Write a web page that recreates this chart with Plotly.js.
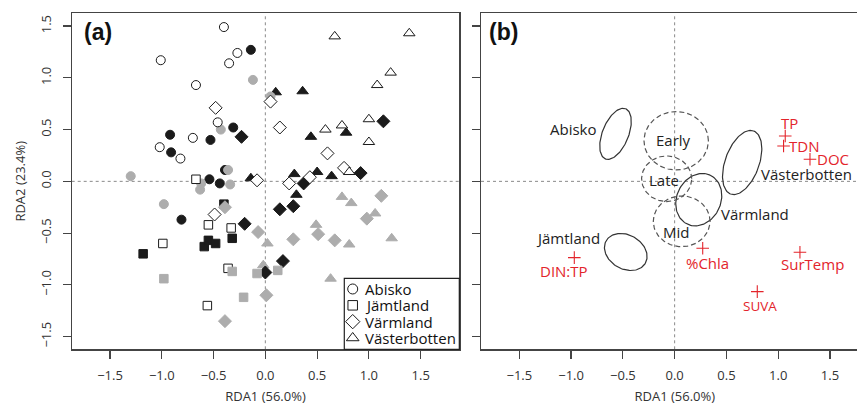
<!DOCTYPE html>
<html><head><meta charset="utf-8">
<script src="https://cdn.plot.ly/plotly-3.0.1.min.js"></script>
<style>html,body{margin:0;padding:0;overflow:hidden;background:#fff}#chart{width:870px;height:406px}</style>
</head><body><div id="chart"></div>
<script>
// ---------- Panel (a): sample scores ----------
const sites = ['Abisko', 'Jämtland', 'Värmland', 'Västerbotten'];
const siteSymbols = ['circle', 'square', 'diamond', 'triangle-up'];
const siteSizes = [9, 8.5, 10, 10];

const abiskoOpenX  = [-0.40, -1.01, -0.35, -0.27, -0.67, -0.46, -0.70, -1.02, -0.82];
const abiskoOpenY  = [1.49, 1.17, 1.14, 1.24, 0.93, 0.57, 0.42, 0.33, 0.22];
const abiskoBlackX = [-0.14, -0.92, -0.91, -0.53, -0.31, -0.39, -0.54, -0.44, -0.81];
const abiskoBlackY = [1.27, 0.45, 0.28, 0.40, 0.52, 0.11, 0.02, -0.02, -0.37];
const abiskoGrayX  = [-1.30, -0.43, -0.36, -0.62, -0.63, -0.34, -0.12, 0.05, -0.98];
const abiskoGrayY  = [0.05, 0.50, 0.11, -0.02, -0.08, -0.03, 0.98, 0.82, -0.22];

const jamtlandOpenX  = [-0.67, -0.55, -0.33, -0.99, -0.36, -0.56];
const jamtlandOpenY  = [0.02, -0.42, -0.45, -0.60, -0.84, -1.20];
const jamtlandBlackX = [-1.18, -0.59, -0.55, -0.48, -0.32, -0.40];
const jamtlandBlackY = [-0.70, -0.63, -0.57, -0.60, -0.55, -0.22];
const jamtlandGrayX  = [-0.98, -0.32, -0.08, 0.12, -0.21];
const jamtlandGrayY  = [-0.94, -0.87, -0.89, -0.86, -1.12];

const varmlandOpenX  = [-0.48, 0.05, 0.14, 0.60, 0.76, 0.43, 0.23, -0.08, -0.49];
const varmlandOpenY  = [0.71, 0.77, 0.52, 0.27, 0.13, 0.04, -0.02, 0.01, -0.32];
const varmlandBlackX = [-0.23, 1.14, 0.92, 0.37, 0.14, -0.20, 0.27, 0.17, 0.00];
const varmlandBlackY = [0.43, 0.58, 0.08, -0.02, -0.27, -0.41, -0.24, -0.77, -0.88];
const varmlandGrayX  = [-0.07, 0.27, 0.51, 0.67, 0.98, 1.12, 0.01, -0.39, -0.39];
const varmlandGrayY  = [-0.49, -0.56, -0.51, -0.57, -0.36, -0.14, -1.10, -1.35, -0.25];

const vasterbottenOpenX  = [0.67, 1.39, 1.21, 1.08, 1.00, 0.74, 0.58, 1.00, 0.81];
const vasterbottenOpenY  = [1.40, 1.43, 1.05, 0.93, 0.60, 0.54, 0.50, 0.38, 0.09];
const vasterbottenBlackX = [0.10, 0.36, 0.44, 0.78, 0.28, 0.50, 0.64, -0.14, 0.30];
const vasterbottenBlackY = [0.86, 0.87, 0.43, 0.47, 0.07, 0.09, 0.05, 0.03, -0.13];
const vasterbottenGrayX  = [0.74, 0.83, 1.06, 0.49, 0.81, 1.22, 0.63, 0.02, -0.02];
const vasterbottenGrayY  = [-0.15, -0.21, -0.31, -0.42, -0.61, -0.55, -0.94, -0.60, -0.81];

// ---------- Panel (b): group ellipses and environmental variables ----------
const ellipseNames = ['Abisko', 'Jämtland', 'Värmland', 'Västerbotten', 'Early', 'Late', 'Mid'];
const ellipseCX = [-0.571, -0.472, 0.233, 0.652, 0.015, -0.077, 0.068];
const ellipseCY = [0.459, -0.682, -0.177, 0.182, 0.392, 0.025, -0.386];
const ellipseA  = [0.261, 0.218, 0.261, 0.324, 0.311, 0.242, 0.274];
const ellipseB  = [0.126, 0.164, 0.213, 0.164, 0.282, 0.220, 0.245];
const ellipseAngle = [68, -30, 65, 70, 0, 0, 0];
const ellipseDashed = [false, false, false, false, true, true, true];

const groupLabels = ['Abisko', 'Early', 'Late', 'Mid', 'Västerbotten', 'Värmland', 'Jämtland'];
const groupLabelX = [-0.972, -0.013, -0.103, 0.013, 1.278, 0.773, -1.032];
const groupLabelY = [0.505, 0.399, 0.013, -0.486, 0.074, -0.318, -0.550];

const envNames = ['TP', 'TDN', 'DOC', '%Chla', 'SurTemp', 'SUVA', 'DIN:TP'];
const envX = [1.068, 1.052, 1.307, 0.271, 1.210, 0.798, -0.969];
const envY = [0.438, 0.341, 0.213, -0.646, -0.685, -1.065, -0.737];
const envLabelDX = [4.7, 20.5, 23, 5, 12.7, 2.7, -10];
const envLabelDY = [12.7, 0, 0, -14.4, -11.7, -14.3, -13.3];
const envLabelSize = [15, 15, 15, 15, 15, 13.5, 15];

const tickValues = [-1.5, -1, -0.5, 0, 0.5, 1, 1.5];
const tickLabels = ['\u22121.5', '\u22121.0', '\u22120.5', '0.0', '0.5', '1.0', '1.5'];
const axisRange = [-1.870, 1.873];
const axisRangeY = [-1.622, 1.623];

// ---------- build ----------
const FONT = 'Open Sans';
const BLACK = '#1b1b1b';
const GRAY = '#adadad';
const RED = '#e3242b';

const siteData = [
  {open: [abiskoOpenX, abiskoOpenY], black: [abiskoBlackX, abiskoBlackY], gray: [abiskoGrayX, abiskoGrayY]},
  {open: [jamtlandOpenX, jamtlandOpenY], black: [jamtlandBlackX, jamtlandBlackY], gray: [jamtlandGrayX, jamtlandGrayY]},
  {open: [varmlandOpenX, varmlandOpenY], black: [varmlandBlackX, varmlandBlackY], gray: [varmlandGrayX, varmlandGrayY]},
  {open: [vasterbottenOpenX, vasterbottenOpenY], black: [vasterbottenBlackX, vasterbottenBlackY], gray: [vasterbottenGrayX, vasterbottenGrayY]}
];

function pointTrace(si, kind) {
  const d = siteData[si][kind];
  const fill = kind === 'open' ? '#ffffff' : (kind === 'black' ? BLACK : GRAY);
  const lineCol = kind === 'open' ? BLACK : fill;
  return {
    type: 'scatter', mode: 'markers', x: d[0], y: d[1], xaxis: 'x', yaxis: 'y',
    name: sites[si] + ' (' + kind + ')', showlegend: false, hoverinfo: 'x+y+name',
    marker: {symbol: siteSymbols[si], size: siteSizes[si], color: fill, line: {color: lineCol, width: 1}}
  };
}

const traces = [];
// drawing order chosen to match overlaps in the figure
traces.push(pointTrace(3, 'gray'));
[0, 1, 2, 3].forEach(i => traces.push(pointTrace(i, 'black')));
[0, 2].forEach(i => traces.push(pointTrace(i, 'gray')));
[0, 1, 2, 3].forEach(i => traces.push(pointTrace(i, 'open')));
traces.push(pointTrace(1, 'gray'));

// legend symbols on an overlay axis [0,1] spanning panel (a)
const legLeft = 0.7033, legTop = 0.2113, legRow0 = 0.1795, legStep = 0.0486, legSymX = 0.7250, legTextX = 0.7520;
sites.forEach((s, i) => {
  traces.push({
    type: 'scatter', mode: 'markers', x: [legSymX], y: [legRow0 - i * legStep], xaxis: 'x3', yaxis: 'y3',
    showlegend: false, hoverinfo: 'skip', cliponaxis: false,
    marker: {symbol: siteSymbols[i], size: siteSizes[i] + 1, color: '#ffffff', line: {color: BLACK, width: 1}}
  });
});

// ellipses
ellipseNames.forEach((n, i) => {
  const xs = [], ys = [];
  const th = ellipseAngle[i] * Math.PI / 180;
  for (let k = 0; k <= 120; k++) {
    const t = 2 * Math.PI * k / 120;
    const ex = ellipseA[i] * Math.cos(t), ey = ellipseB[i] * Math.sin(t);
    xs.push(ellipseCX[i] + ex * Math.cos(th) - ey * Math.sin(th));
    ys.push(ellipseCY[i] + ex * Math.sin(th) + ey * Math.cos(th));
  }
  traces.push({
    type: 'scatter', mode: 'lines', x: xs, y: ys, xaxis: 'x2', yaxis: 'y2', name: n,
    showlegend: false, hoverinfo: 'name',
    line: {color: ellipseDashed[i] ? '#555' : '#333', width: 1.2, dash: ellipseDashed[i] ? '5px,3px' : 'solid'}
  });
});

// environmental variables
traces.push({
  type: 'scatter', mode: 'markers', x: envX, y: envY, xaxis: 'x2', yaxis: 'y2', text: envNames,
  showlegend: false, hoverinfo: 'text',
  marker: {symbol: 'cross-thin', size: 9, line: {color: RED, width: 1.1}}
});

const W = 870, H = 406;
const domA = [71.7 / W, 459.3 / W];
const domB = [481 / W, 868.6 / W];
const domY = [(H - 349.3) / H, (H - 13.3) / H];

const axisCommon = {
  showgrid: false, zeroline: false, showline: true, mirror: true, linecolor: '#444', linewidth: 1.2,
  ticks: 'outside', ticklen: 8, tickwidth: 1.2, tickcolor: '#444',
  tickmode: 'array', tickvals: tickValues, ticktext: tickLabels,
  tickfont: {family: FONT, size: 13, color: '#333'}, ticklabelstandoff: 6
};

const annotations = [];
annotations.push({xref: 'x domain', yref: 'y domain', x: 0.0258, y: 0.945, xanchor: 'left', yanchor: 'middle',
  text: '<b>(a)</b>', showarrow: false, font: {family: 'Liberation Sans', size: 23, color: '#111'}});
annotations.push({xref: 'x2 domain', yref: 'y2 domain', x: 0.0147, y: 0.945, xanchor: 'left', yanchor: 'middle',
  text: '<b>(b)</b>', showarrow: false, font: {family: 'Liberation Sans', size: 23, color: '#111'}});
sites.forEach((s, i) => annotations.push({xref: 'x domain', yref: 'y domain', x: legTextX, y: legRow0 - i * legStep,
  xanchor: 'left', yanchor: 'middle', text: s, showarrow: false, font: {family: FONT, size: 15, color: '#111'}}));
groupLabels.forEach((s, i) => annotations.push({xref: 'x2', yref: 'y2', x: groupLabelX[i], y: groupLabelY[i],
  text: s, showarrow: false, font: {family: FONT, size: 15, color: '#222'}}));
envNames.forEach((s, i) => annotations.push({xref: 'x2', yref: 'y2', x: envX[i], y: envY[i],
  xshift: envLabelDX[i], yshift: envLabelDY[i], text: s, showarrow: false,
  font: {family: FONT, size: envLabelSize[i], color: RED}}));

const dotLine = {color: '#8a8a8a', width: 1, dash: 'dot'};
const shapes = [
  {type: 'line', xref: 'x', yref: 'y domain', x0: 0, x1: 0, y0: 0, y1: 1, line: dotLine, layer: 'below'},
  {type: 'line', xref: 'x domain', yref: 'y', x0: 0, x1: 1, y0: 0, y1: 0, line: dotLine, layer: 'below'},
  {type: 'line', xref: 'x2', yref: 'y2 domain', x0: 0, x1: 0, y0: 0, y1: 1, line: dotLine, layer: 'below'},
  {type: 'line', xref: 'x2 domain', yref: 'y2', x0: 0, x1: 1, y0: 0, y1: 0, line: dotLine, layer: 'below'},
  {type: 'rect', xref: 'x domain', yref: 'y domain', x0: legLeft, x1: 1, y0: 0, y1: legTop,
   line: {color: '#222', width: 1.2}, fillcolor: 'rgba(0,0,0,0)', layer: 'above'}
];

const layout = {
  width: W, height: H, margin: {l: 0, r: 0, t: 0, b: 0}, paper_bgcolor: '#fff', plot_bgcolor: '#fff',
  showlegend: false,
  xaxis: Object.assign({}, axisCommon, {domain: domA, range: axisRange, anchor: 'y',
    title: {text: 'RDA1 (56.0%)', font: {family: FONT, size: 13, color: '#333'}, standoff: 8}}),
  yaxis: Object.assign({}, axisCommon, {domain: domY, range: axisRangeY, anchor: 'x', tickangle: -90,
    title: {text: 'RDA2 (23.4%)', font: {family: FONT, size: 13, color: '#333'}, standoff: 8}}),
  xaxis2: Object.assign({}, axisCommon, {domain: domB, range: axisRange, anchor: 'y2',
    title: {text: 'RDA1 (56.0%)', font: {family: FONT, size: 13, color: '#333'}, standoff: 8}}),
  yaxis2: Object.assign({}, axisCommon, {domain: domY, range: axisRangeY, anchor: 'x2', showticklabels: false}),
  xaxis3: {overlaying: 'x', range: [0, 1], visible: false, fixedrange: true},
  yaxis3: {overlaying: 'y', range: [0, 1], visible: false, fixedrange: true},
  annotations: annotations, shapes: shapes
};

Plotly.newPlot('chart', traces, layout, {displayModeBar: false, staticPlot: true});
</script></body></html>
